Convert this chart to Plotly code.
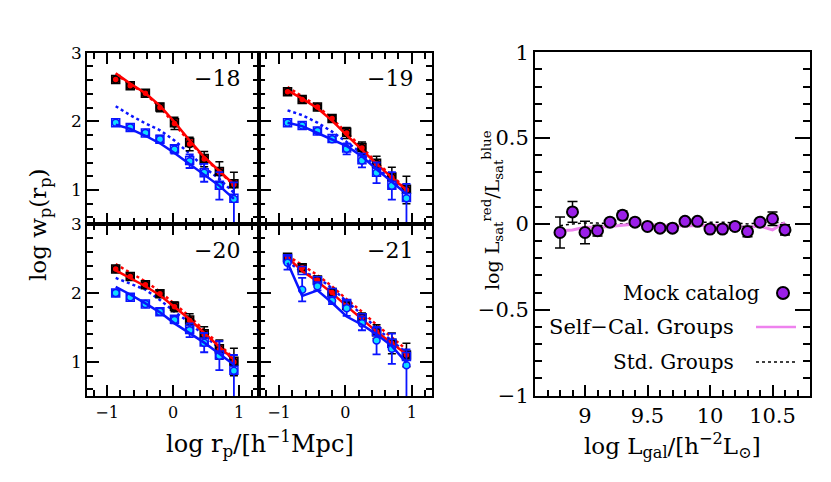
import plotly.graph_objects as go

# ---------------- data ----------------
# projected separations, shared by all four wp panels
log_rp = [-0.87, -0.65, -0.42, -0.20, 0.02, 0.25, 0.47, 0.70, 0.92]

# Mr < -18
red_sq_18 = [2.61, 2.52, 2.41, 2.21, 1.98, 1.69, 1.46, 1.27, 1.09]
red_pt_18 = [2.61, 2.52, 2.41, 2.20, 1.97, 1.67, 1.45, 1.26, 1.08]
red_err_18 = [0.02, 0.02, 0.03, 0.06, 0.09, 0.10, 0.11, 0.15, 0.18]
red_sc_18 = [2.70, 2.55, 2.41, 2.23, 1.99, 1.72, 1.48, 1.28, 1.08]
red_std_18 = [2.69, 2.54, 2.40, 2.21, 1.96, 1.70, 1.47, 1.27, 1.07]
blue_sq_18 = [1.98, 1.91, 1.83, 1.74, 1.60, 1.43, 1.25, 1.07, 0.88]
blue_pt_18 = [1.98, 1.91, 1.83, 1.74, 1.59, 1.42, 1.25, 1.06, 0.87]
blue_up_18 = [0.02, 0.03, 0.03, 0.05, 0.06, 0.10, 0.13, 0.20, 0.24]
blue_dn_18 = [0.02, 0.03, 0.03, 0.05, 0.06, 0.10, 0.13, 0.20, 0.70]
blue_sc_18 = [1.95, 1.89, 1.79, 1.68, 1.54, 1.38, 1.23, 1.06, 0.87]
blue_std_18 = [2.22, 2.09, 1.97, 1.87, 1.72, 1.53, 1.33, 1.16, 0.96]

# Mr < -19
red_sq_19 = [2.43, 2.32, 2.21, 2.04, 1.84, 1.62, 1.39, 1.19, 1.01]
red_pt_19 = [2.43, 2.32, 2.21, 2.04, 1.83, 1.61, 1.38, 1.18, 1.00]
red_err_19 = [0.02, 0.02, 0.03, 0.04, 0.08, 0.09, 0.11, 0.15, 0.20]
red_sc_19 = [2.45, 2.33, 2.19, 2.01, 1.80, 1.58, 1.38, 1.18, 1.00]
red_std_19 = [2.50, 2.36, 2.22, 2.04, 1.84, 1.62, 1.40, 1.20, 1.02]
blue_sq_19 = [1.98, 1.94, 1.86, 1.75, 1.61, 1.44, 1.26, 1.07, 0.89]
blue_pt_19 = [1.98, 1.94, 1.86, 1.74, 1.60, 1.43, 1.25, 1.06, 0.88]
blue_up_19 = [0.02, 0.02, 0.03, 0.04, 0.08, 0.10, 0.15, 0.20, 0.21]
blue_dn_19 = [0.02, 0.02, 0.03, 0.04, 0.08, 0.10, 0.15, 0.20, 0.70]
blue_sc_19 = [1.98, 1.93, 1.83, 1.74, 1.64, 1.49, 1.30, 1.12, 0.94]
blue_std_19 = [2.16, 2.09, 1.98, 1.85, 1.70, 1.53, 1.34, 1.14, 0.99]

# Mr < -20
red_sq_20 = [2.35, 2.24, 2.12, 1.99, 1.81, 1.61, 1.41, 1.19, 1.01]
red_pt_20 = [2.35, 2.24, 2.12, 1.99, 1.80, 1.60, 1.40, 1.18, 1.00]
red_err_20 = [0.02, 0.02, 0.03, 0.04, 0.07, 0.10, 0.11, 0.14, 0.20]
red_sc_20 = [2.33, 2.22, 2.10, 1.97, 1.80, 1.62, 1.42, 1.22, 1.03]
red_std_20 = [2.42, 2.30, 2.17, 2.02, 1.84, 1.66, 1.46, 1.25, 1.05]
blue_sq_20 = [2.00, 1.94, 1.84, 1.73, 1.62, 1.47, 1.29, 1.10, 0.88]
blue_pt_20 = [2.00, 1.94, 1.84, 1.73, 1.61, 1.46, 1.28, 1.09, 0.87]
blue_up_20 = [0.04, 0.03, 0.03, 0.04, 0.05, 0.10, 0.14, 0.21, 0.23]
blue_dn_20 = [0.04, 0.03, 0.03, 0.04, 0.05, 0.10, 0.14, 0.21, 0.70]
blue_sc_20 = [2.09, 1.98, 1.85, 1.72, 1.56, 1.42, 1.28, 1.12, 0.96]
blue_std_20 = [2.22, 2.14, 2.05, 1.90, 1.73, 1.57, 1.38, 1.20, 1.03]

# Mr < -21
red_sq_21 = [2.52, 2.37, 2.19, 2.01, 1.82, 1.64, 1.44, 1.27, 1.10]
red_pt_21 = [2.52, 2.37, 2.19, 2.01, 1.82, 1.64, 1.44, 1.27, 1.10]
red_err_21 = [0.02, 0.02, 0.03, 0.04, 0.05, 0.07, 0.10, 0.15, 0.17]
red_sc_21 = [2.52, 2.32, 2.17, 2.00, 1.81, 1.62, 1.44, 1.27, 1.11]
red_std_21 = [2.54, 2.41, 2.26, 2.10, 1.91, 1.73, 1.54, 1.36, 1.18]
blue_sq_21 = [2.50, 2.33, 2.18, 2.01, 1.85, 1.64, 1.44, 1.27, 1.08]
blue_pt_21 = [2.44, 2.05, 2.10, 1.89, 1.78, 1.56, 1.31, 1.19, 0.95]
blue_up_21 = [0.10, 0.17, 0.06, 0.05, 0.11, 0.10, 0.20, 0.22, 0.23]
blue_dn_21 = [0.10, 0.17, 0.06, 0.05, 0.11, 0.10, 0.20, 0.22, 0.70]
blue_sc_21 = [2.44, 1.96, 2.04, 1.86, 1.66, 1.54, 1.40, 1.23, 0.99]
blue_std_21 = [2.46, 2.31, 2.23, 2.07, 1.88, 1.69, 1.49, 1.30, 1.13]

# satellite luminosity ratio vs central luminosity
log_lgal = [8.8, 8.9, 9.0, 9.1, 9.2, 9.3, 9.4, 9.5, 9.6, 9.7,
            9.8, 9.9, 10.0, 10.1, 10.2, 10.3, 10.4, 10.5, 10.6]
ratio_mock = [-0.05, 0.07, -0.05, -0.04, 0.01, 0.05, 0.01, -0.015, -0.025, -0.025,
              0.015, 0.015, -0.03, -0.03, -0.015, -0.045, 0.01, 0.03, -0.035]
ratio_err = [0.09, 0.06, 0.065, 0.03, 0.02, 0.025, 0.02, 0.015, 0.015, 0.015,
             0.015, 0.015, 0.02, 0.02, 0.02, 0.03, 0.02, 0.04, 0.03]
ratio_selfcal = [-0.04, -0.036, -0.02, -0.02, -0.015, -0.008, 0.0, -0.005, -0.008, -0.01,
                 -0.012, -0.01, -0.008, -0.008, -0.016, -0.02, -0.012, -0.035, 0.008]
ratio_std = [-0.01, 0.0, 0.005, 0.005, 0.0, 0.0, 0.005, 0.0, -0.005, 0.0,
             0.005, 0.01, 0.01, 0.01, 0.005, 0.0, 0.005, 0.01, 0.005]

panel_labels = ["\u221218", "\u221219", "\u221220", "\u221221"]
mag_ticks = [-18, -20, -22]

RED = "#ff0000"
BLUE = "#0a14ff"
CYAN = "#10dcff"
FONT = "DejaVu Serif"

panels = [
    ("x", "y", red_sq_18, red_pt_18, red_err_18, red_sc_18, red_std_18,
     blue_sq_18, blue_pt_18, blue_up_18, blue_dn_18, blue_sc_18, blue_std_18),
    ("x2", "y2", red_sq_19, red_pt_19, red_err_19, red_sc_19, red_std_19,
     blue_sq_19, blue_pt_19, blue_up_19, blue_dn_19, blue_sc_19, blue_std_19),
    ("x3", "y3", red_sq_20, red_pt_20, red_err_20, red_sc_20, red_std_20,
     blue_sq_20, blue_pt_20, blue_up_20, blue_dn_20, blue_sc_20, blue_std_20),
    ("x4", "y4", red_sq_21, red_pt_21, red_err_21, red_sc_21, red_std_21,
     blue_sq_21, blue_pt_21, blue_up_21, blue_dn_21, blue_sc_21, blue_std_21),
]

fig = go.Figure()

for (xa, ya, rsq, rpt, rerr, rsc, rstd, bsq, bpt, bup, bdn, bsc, bstd) in panels:
    # dotted = std groups, solid = self-calibrated groups
    fig.add_trace(go.Scatter(x=log_rp, y=rstd, xaxis=xa, yaxis=ya, mode="lines",
                             line=dict(color=RED, width=2.5, dash="dot")))
    fig.add_trace(go.Scatter(x=log_rp, y=bstd, xaxis=xa, yaxis=ya, mode="lines",
                             line=dict(color=BLUE, width=2.5, dash="dot")))
    fig.add_trace(go.Scatter(x=log_rp, y=rsq, xaxis=xa, yaxis=ya, mode="markers",
                             marker=dict(symbol="square", size=8, color=RED,
                                         line=dict(color="black", width=1.5))))
    fig.add_trace(go.Scatter(x=log_rp, y=rpt, xaxis=xa, yaxis=ya, mode="markers",
                             error_y=dict(type="data", array=rerr, color="black",
                                          thickness=1.5, width=4),
                             marker=dict(symbol="circle", size=7, color=RED,
                                         line=dict(color="black", width=1.5))))
    fig.add_trace(go.Scatter(x=log_rp, y=rsc, xaxis=xa, yaxis=ya, mode="lines",
                             line=dict(color=RED, width=2.5)))
    fig.add_trace(go.Scatter(x=log_rp, y=bsq, xaxis=xa, yaxis=ya, mode="markers",
                             marker=dict(symbol="square-open", size=8, color=BLUE,
                                         line=dict(color=BLUE, width=1.5))))
    fig.add_trace(go.Scatter(x=log_rp, y=bpt, xaxis=xa, yaxis=ya, mode="markers",
                             error_y=dict(type="data", array=bup, arrayminus=bdn,
                                          color=BLUE, thickness=1.8, width=4),
                             marker=dict(symbol="circle", size=7, color=CYAN,
                                         line=dict(color=BLUE, width=1.5))))
    fig.add_trace(go.Scatter(x=log_rp, y=bsc, xaxis=xa, yaxis=ya, mode="lines",
                             line=dict(color=BLUE, width=2.5)))

# right panel
fig.add_trace(go.Scatter(x=log_lgal, y=ratio_std, xaxis="x5", yaxis="y5", mode="lines",
                         line=dict(color="black", width=1.5, dash="dot")))
fig.add_trace(go.Scatter(x=log_lgal, y=ratio_selfcal, xaxis="x5", yaxis="y5", mode="lines",
                         line=dict(color="#ee82ee", width=3)))
fig.add_trace(go.Scatter(x=log_lgal, y=ratio_mock, xaxis="x5", yaxis="y5", mode="markers",
                         error_y=dict(type="data", array=ratio_err, color="black",
                                      thickness=1.5, width=5),
                         marker=dict(symbol="circle", size=11, color="#9b1fe8",
                                     line=dict(color="black", width=2))))

# ---------------- layout ----------------
# the page body has an 8px margin, so the figure is made 8px smaller and
# screen positions are converted with that offset
OFF = 8
W, H = 831 - OFF, 482 - OFF


def px(x):
    return (x - OFF) / W


def py(y):
    return 1 - (y - OFF) / H


frame = dict(showline=True, linecolor="black", linewidth=2, mirror="allticks",
             ticks="inside", tickcolor="black", tickwidth=1.5, showgrid=False,
             zeroline=False)


def minor(dt, ln=6):
    return dict(ticks="inside", ticklen=ln, tickwidth=1.5, tickcolor="black",
                dtick=dt, tick0=0, showgrid=False)


left_x = dict(frame, range=[-1.3, 1.3], tickvals=[-1, 0, 1], ticktext=["\u22121", "0", "1"],
              ticklen=11, minor=minor(0.2), tickfont=dict(family=FONT, size=16, color="black"))
left_y = dict(frame, range=[0.5, 3], tickvals=[1, 2, 3], ticktext=["1", "2", "3"],
              ticklen=12, minor=minor(0.2), tickfont=dict(family=FONT, size=17, color="black"))

xl = [px(87.3), px(259)]
xr = [px(259), px(431.7)]
yt = [py(224.3), py(52.7)]
yb = [py(396.3), py(224.3)]

fig.update_layout(
    width=W, height=H,
    margin=dict(l=0, r=0, t=0, b=0, autoexpand=False),
    paper_bgcolor="white", plot_bgcolor="white",
    showlegend=False,
    font=dict(family=FONT, color="black"),
    xaxis=dict(left_x, domain=xl, anchor="y", showticklabels=False),
    yaxis=dict(left_y, domain=yt, anchor="x"),
    xaxis2=dict(left_x, domain=xr, anchor="y2", showticklabels=False),
    yaxis2=dict(left_y, domain=yt, anchor="x2", showticklabels=False),
    xaxis3=dict(left_x, domain=xl, anchor="y3"),
    yaxis3=dict(left_y, domain=yb, anchor="x3"),
    xaxis4=dict(left_x, domain=xr, anchor="y4"),
    yaxis4=dict(left_y, domain=yb, anchor="x4", showticklabels=False),
    xaxis5=dict(frame, mirror=True, domain=[px(535), px(810)], anchor="y5",
                range=[8.6, 10.8], tickvals=[9, 9.5, 10, 10.5],
                ticktext=["9", "9.5", "10", "10.5"], ticklen=11, minor=minor(0.1, 6),
                tickfont=dict(family=FONT, size=21, color="black")),
    yaxis5=dict(frame, domain=[py(395.5), py(52.3)], anchor="x5",
                range=[-1, 1], tickvals=[-1, -0.5, 0, 0.5, 1],
                ticktext=["\u22121", "\u22120.5", "0", "0.5", "1"], ticklen=15,
                minor=minor(0.1, 7), tickfont=dict(family=FONT, size=21, color="black")),
    xaxis6=dict(overlaying="x5", anchor="y5", side="top", showline=False,
                showgrid=False, zeroline=False, range=[-16.83, -22.35],
                tickvals=mag_ticks, ticktext=["\u2212%d" % abs(m) for m in mag_ticks],
                ticks="inside", ticklen=14, tickwidth=1.5, tickcolor="black",
                minor=dict(ticks="inside", ticklen=7, tickwidth=1.5, tickcolor="black",
                           dtick=0.5, tick0=0, showgrid=False),
                tickfont=dict(family=FONT, size=21, color="black")),
)

# panel labels
for (xa, ya, *_), lab in zip(panels, panel_labels):
    fig.add_annotation(x=1.05, y=2.62, xref=xa, yref=ya, text=lab, showarrow=False,
                       xanchor="right", yanchor="middle",
                       font=dict(family=FONT, size=22, color="black"))


def note(x, y, text, size, angle=0, xanchor="center"):
    fig.add_annotation(x=px(x), y=py(y), xref="paper", yref="paper", showarrow=False,
                       xanchor=xanchor, yanchor="middle", text=text, textangle=angle,
                       font=dict(family=FONT, size=size, color="black"))


# axis titles
note(40, 224, "log w<sub>p</sub>(r<sub>p</sub>)", 23, angle=-90)
note(260, 443, "log r<sub>p</sub>/[h<sup>\u22121</sup>Mpc]", 24)
note(492, 210, "log L<sub>sat</sub><sup>red</sup>/L<sub>sat</sub><sup>blue</sup>", 19, angle=-90)
note(672, 445, "log L<sub>gal</sub>/[h<sup>\u22122</sup>L<sub>\u2299</sub>]", 23)

# legend, written by hand: text on the left, key on the right
note(762, 293, "Mock catalog", 20, xanchor="right")
note(736, 327, "Self\u2212Cal. Groups", 21, xanchor="right")
note(736, 362, "Std. Groups", 20, xanchor="right")
fig.add_shape(type="circle", xref="paper", yref="paper", xsizemode="pixel",
              ysizemode="pixel", xanchor=px(783), yanchor=py(293),
              x0=-6, x1=6, y0=-6, y1=6, fillcolor="#9b1fe8",
              line=dict(color="black", width=2))
fig.add_shape(type="line", xref="paper", yref="paper", x0=px(756), x1=px(796),
              y0=py(327), y1=py(327), line=dict(color="#ee82ee", width=2.5))
fig.add_shape(type="line", xref="paper", yref="paper", x0=px(756), x1=px(796),
              y0=py(362), y1=py(362), line=dict(color="black", width=1.5, dash="dot"))

fig.write_html("out.html")
